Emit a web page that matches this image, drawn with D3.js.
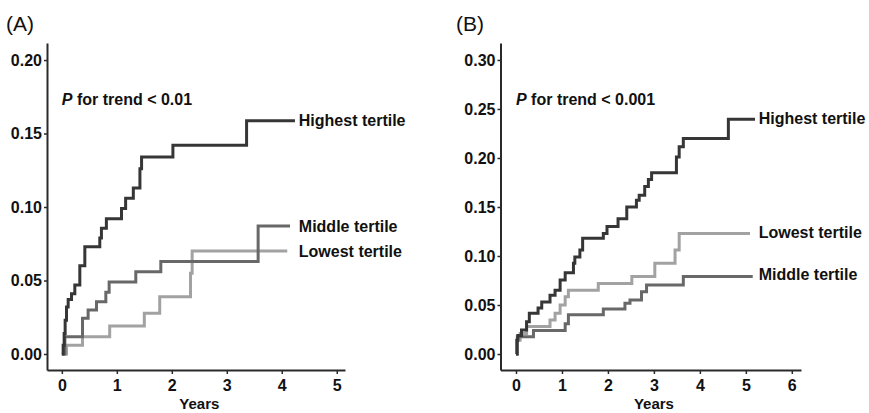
<!DOCTYPE html>
<html>
<head>
<meta charset="utf-8">
<script src="https://cdn.jsdelivr.net/npm/d3@7"></script>
<style>
    body { margin: 0; background: #fff; }
    svg { display: block; font-family: "Liberation Sans", Arial, sans-serif; }
</style>
</head>
<body>
<svg id="chart" width="869" height="413"></svg>
<script>
// Panel A - cumulative incidence, step points (years, value)
const highestA_t = [0, 0.024, 0.042, 0.06, 0.085, 0.115, 0.176, 0.236, 0.327, 0.418, 0.69, 0.72, 0.81, 1.085, 1.16, 1.30, 1.42, 1.45, 2.02, 3.36, 4.24];
const highestA_v = [0, 0.006, 0.014, 0.023, 0.032, 0.037, 0.041, 0.047, 0.060, 0.073, 0.079, 0.0855, 0.092, 0.099, 0.106, 0.113, 0.126, 0.134, 0.142, 0.1587, 0.1587];
const middleA_t = [0, 0.055, 0.376, 0.478, 0.63, 0.8, 0.86, 1.345, 1.8, 3.57, 4.15];
const middleA_v = [0, 0.0118, 0.0243, 0.030, 0.0356, 0.042, 0.049, 0.056, 0.063, 0.087, 0.087];
const lowestA_t = [0, 0.085, 0.376, 0.87, 1.5, 1.78, 2.34, 2.37, 4.1];
const lowestA_v = [0, 0.006, 0.0118, 0.019, 0.0277, 0.039, 0.055, 0.070, 0.070];

// Panel B
const highestB_t = [0, 0.02, 0.04, 0.12, 0.23, 0.29, 0.48, 0.56, 0.74, 0.85, 0.96, 1.07, 1.25, 1.28, 1.39, 1.45, 1.9, 1.98, 2.22, 2.41, 2.62, 2.68, 2.8, 2.88, 2.95, 3.49, 3.55, 3.64, 4.62, 5.2];
const highestB_v = [0, 0.014, 0.019, 0.0245, 0.033, 0.0415, 0.047, 0.053, 0.060, 0.065, 0.0755, 0.083, 0.0925, 0.099, 0.106, 0.118, 0.123, 0.13, 0.138, 0.150, 0.157, 0.162, 0.171, 0.178, 0.185, 0.201, 0.2115, 0.220, 0.2395, 0.2395];
const lowestB_t = [0, 0.02, 0.09, 0.23, 0.74, 0.85, 0.96, 1.07, 1.14, 1.79, 2.52, 3.02, 3.46, 3.55, 5.09];
const lowestB_v = [0, 0.014, 0.021, 0.028, 0.0347, 0.0415, 0.05, 0.0585, 0.065, 0.072, 0.079, 0.0925, 0.106, 0.123, 0.123];
const middleB_t = [0, 0.03, 0.38, 1.07, 1.14, 1.9, 2.37, 2.48, 2.73, 2.84, 3.64, 5.15];
const middleB_v = [0, 0.0177, 0.024, 0.031, 0.040, 0.046, 0.0517, 0.055, 0.0636, 0.0704, 0.079, 0.079];

const ticksA_x = [0, 1, 2, 3, 4, 5];
const ticksA_y = [0, 0.05, 0.10, 0.15, 0.20];
const ticksB_x = [0, 1, 2, 3, 4, 5, 6];
const ticksB_y = [0, 0.05, 0.10, 0.15, 0.20, 0.25, 0.30];

const colors = {highest: '#363636', middle: '#686868', lowest: '#a2a2a2'};

const svg = d3.select('#chart');

function zip(ts, vs) {
    return ts.map((t, i) => ({t: t, v: vs[i]}));
}

function drawPanel(p) {
    const g = svg.append('g');

    const x = d3.scaleLinear().domain(p.xDomain).range(p.xRange);
    const y = d3.scaleLinear().domain(p.yDomain).range([370, 43]);

    // axes
    const xAxis = g.append('g')
        .attr('transform', 'translate(0,370)')
        .call(d3.axisBottom(x).tickValues(p.xTicks).tickFormat(d3.format('d'))
            .tickSize(4).tickPadding(6).tickSizeOuter(0));
    const yAxis = g.append('g')
        .attr('transform', `translate(${p.xRange[0]},0)`)
        .call(d3.axisLeft(y).tickValues(p.yTicks).tickFormat(d3.format('.2f'))
            .tickSize(3).tickPadding(2).tickSizeOuter(0));

    [xAxis, yAxis].forEach(a => {
        a.select('.domain').attr('stroke', '#2a2a2a').attr('stroke-width', 2);
        a.selectAll('.tick line').attr('stroke', '#2a2a2a').attr('stroke-width', 1.5);
        a.selectAll('.tick text')
            .attr('fill', '#111')
            .attr('font-size', 16)
            .attr('font-weight', 'bold')
            .attr('font-family', '"Liberation Sans", Arial, sans-serif');
    });

    g.append('text')
        .attr('x', x(p.xTicks[p.xTicks.length - 1] / 2))
        .attr('y', 409)
        .attr('text-anchor', 'middle')
        .attr('font-size', 15)
        .attr('font-weight', 'bold')
        .attr('fill', '#111')
        .text('Years');

    // panel letter
    g.append('text')
        .attr('x', p.letterX)
        .attr('y', 31)
        .attr('font-size', 21)
        .attr('fill', '#111')
        .text(p.letter);

    // P for trend
    const pt = g.append('text')
        .attr('x', x(0))
        .attr('y', 105)
        .attr('font-size', 16)
        .attr('font-weight', 'bold')
        .attr('fill', '#111');
    pt.append('tspan').attr('font-style', 'italic').text('P');
    pt.append('tspan').text(' for trend < ' + p.pText);

    const line = d3.line()
        .x(d => x(d.t))
        .y(d => y(d.v))
        .curve(d3.curveStepAfter);

    p.series.forEach(s => {
        const data = zip(s.t, s.v);
        g.append('path')
            .datum(data)
            .attr('fill', 'none')
            .attr('stroke', colors[s.key])
            .attr('stroke-width', 3)
            .attr('d', line);

        const last = data[data.length - 1];
        g.append('text')
            .attr('x', x(p.labelT))
            .attr('y', y(last.v) + s.dy)
            .attr('dy', '0.35em')
            .attr('font-size', 16)
            .attr('font-weight', 'bold')
            .attr('fill', '#111')
            .text(s.name);
    });
}

drawPanel({
    letter: '(A)',
    letterX: 6,
    pText: '0.01',
    xDomain: [-0.27, 5.15],
    xRange: [47, 345],
    yDomain: [-0.0109, 0.2116],
    xTicks: ticksA_x,
    yTicks: ticksA_y,
    labelT: 4.31,
    series: [
        {key: 'lowest', name: 'Lowest tertile', t: lowestA_t, v: lowestA_v, dy: 0},
        {key: 'middle', name: 'Middle tertile', t: middleA_t, v: middleA_v, dy: 0},
        {key: 'highest', name: 'Highest tertile', t: highestA_t, v: highestA_v, dy: 0}
    ]
});

drawPanel({
    letter: '(B)',
    letterX: 456,
    pText: '0.001',
    xDomain: [-0.337, 6.2],
    xRange: [500.5, 801],
    yDomain: [-0.0163, 0.3173],
    xTicks: ticksB_x,
    yTicks: ticksB_y,
    labelT: 5.28,
    series: [
        {key: 'lowest', name: 'Lowest tertile', t: lowestB_t, v: lowestB_v, dy: -1},
        {key: 'middle', name: 'Middle tertile', t: middleB_t, v: middleB_v, dy: -2},
        {key: 'highest', name: 'Highest tertile', t: highestB_t, v: highestB_v, dy: -1}
    ]
});
</script>
</body>
</html>
